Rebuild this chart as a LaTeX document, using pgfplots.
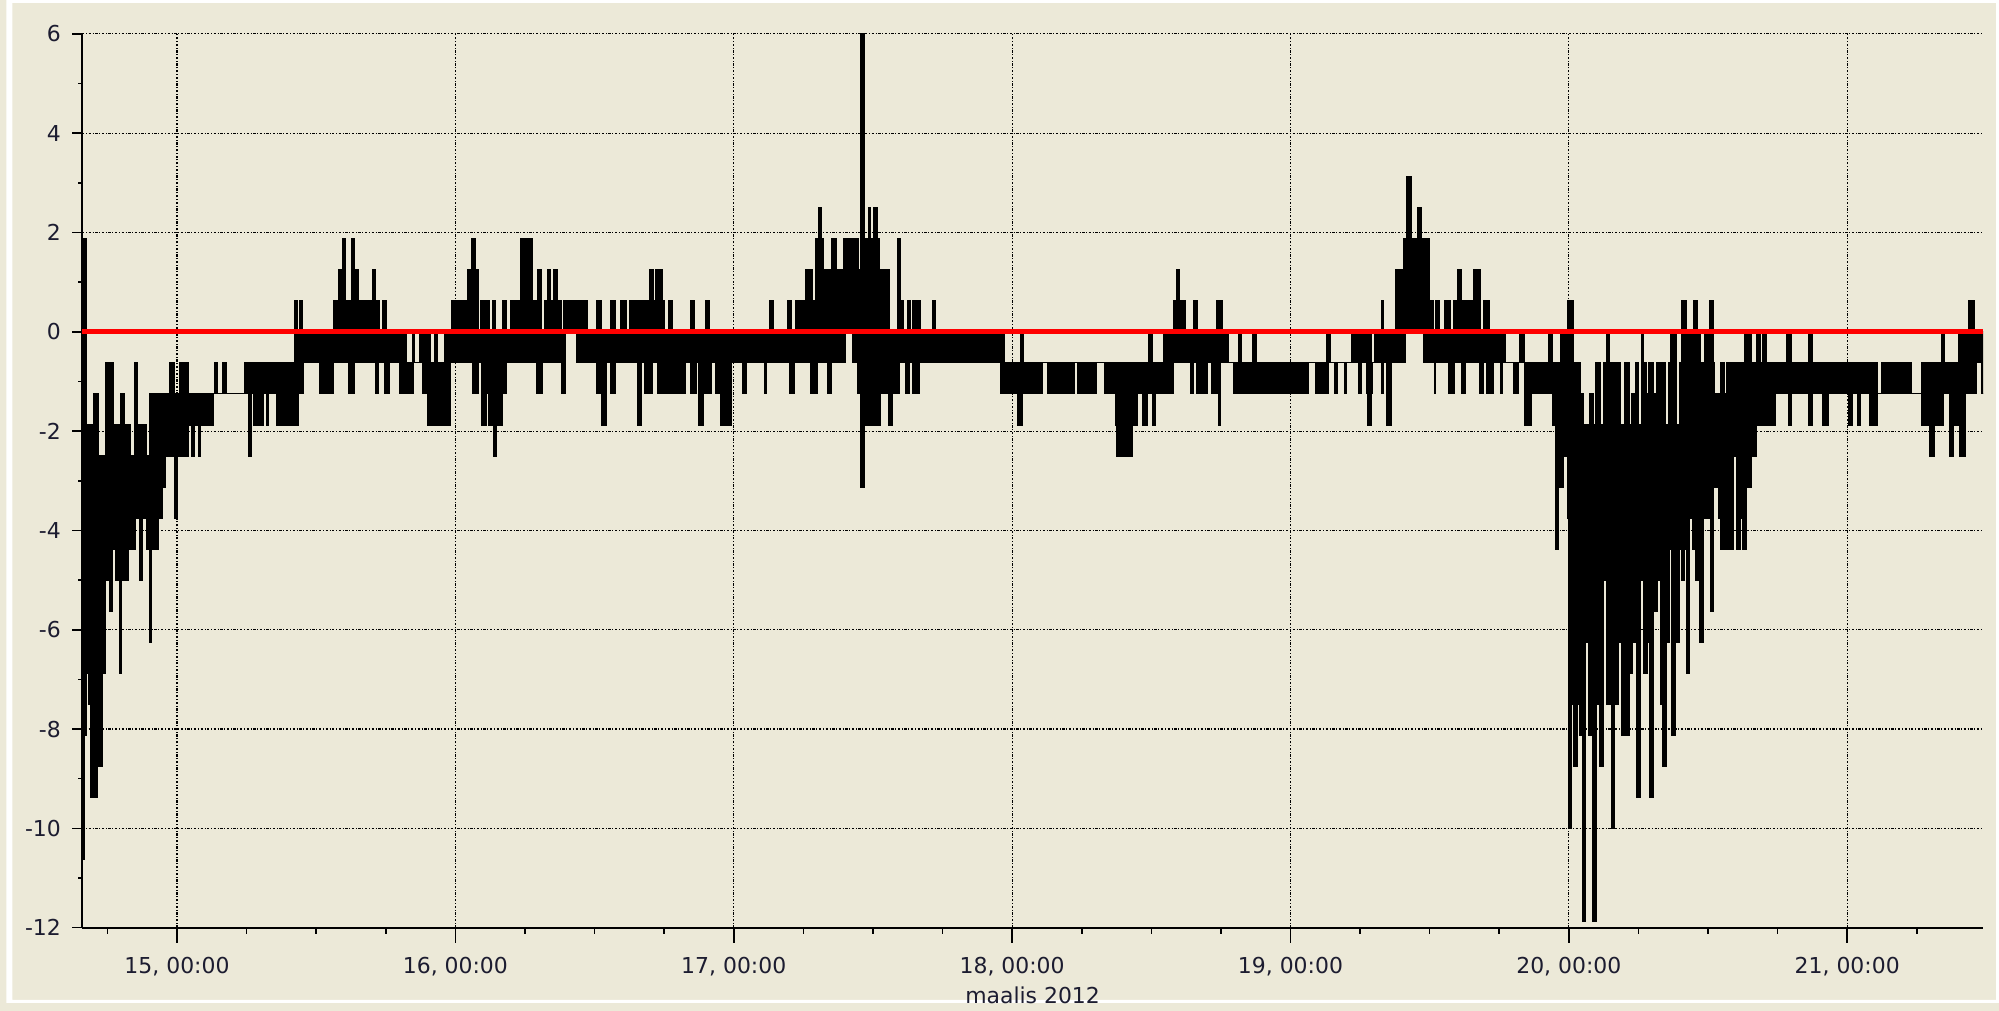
\documentclass[border=0pt]{standalone}
\usepackage{fontspec}
\setmainfont{DejaVu Sans}
\usepackage{pgfplots}
\pgfplotsset{compat=1.18}
\usepgfplotslibrary{fillbetween}
\usepackage{pgfplotstable}
\definecolor{bg}{RGB}{236,233,216}
\definecolor{lbl}{RGB}{28,28,48}

% each row: from t until the next t the signal swings between lo and hi
\pgfplotstableread{
t lo hi
14.659 -10.625 1.875
14.668 -8.125 1.875
14.676 -6.875 -1.875
14.681 -7.5 -1.875
14.691 -9.375 -1.875
14.700 -9.375 -1.25
14.713 -7.5 -1.25
14.718 -7.5 -2.5
14.720 -8.75 -2.5
14.731 -6.875 -2.5
14.742 -5.0 -0.625
14.757 -5.625 -0.625
14.769 -4.375 -0.625
14.772 -4.375 -1.875
14.778 -5.0 -1.875
14.793 -6.875 -1.875
14.796 -6.875 -1.25
14.801 -5.0 -1.25
14.810 -5.0 -1.875
14.825 -4.375 -1.875
14.831 -4.375 -2.5
14.846 -4.375 -0.625
14.849 -3.75 -0.625
14.858 -3.75 -1.875
14.865 -5.0 -1.875
14.877 -3.75 -1.875
14.891 -4.375 -2.5
14.900 -6.25 -2.5
14.901 -6.25 -1.25
14.909 -4.375 -1.25
14.933 -3.75 -1.875
14.939 -3.75 -1.25
14.949 -3.125 -1.25
14.957 -2.5 -1.25
14.973 -2.5 -0.625
14.989 -2.5 -1.25
14.993 -3.75 -1.25
15.001 -2.5 -1.25
15.011 -2.5 -0.625
15.041 -1.875 -1.25
15.053 -2.5 -1.25
15.061 -1.875 -1.25
15.077 -2.5 -1.25
15.085 -1.875 -1.25
15.130 -1.25 -1.25
15.136 -1.25 -0.625
15.146 -1.25 -1.25
15.164 -1.25 -0.625
15.178 -1.25 -1.25
15.244 -1.25 -0.625
15.256 -2.5 -0.625
15.268 -1.25 -0.625
15.274 -1.875 -0.625
15.310 -1.25 -0.625
15.322 -1.875 -0.625
15.328 -1.25 -0.625
15.358 -1.875 -0.625
15.423 -1.875 0.625
15.432 -1.875 0
15.435 -1.25 0
15.441 -1.25 0.625
15.451 -1.25 0
15.453 -0.625 0
15.513 -1.25 0
15.561 -0.625 0.625
15.582 -0.625 1.25
15.594 -0.625 1.875
15.606 -0.625 0.625
15.618 -1.25 0.625
15.627 -1.25 1.875
15.639 -0.625 1.25
15.651 -0.625 0.625
15.702 -0.625 1.25
15.712 -0.625 0.625
15.714 -1.25 0.625
15.722 -0.625 0.625
15.728 -0.625 0
15.740 -0.625 0.625
15.746 -1.25 0.625
15.752 -1.25 0
15.764 -0.625 0
15.800 -1.25 0
15.824 -1.25 -0.625
15.848 -0.625 0
15.854 -0.625 -0.625
15.872 -0.625 0
15.883 -1.25 0
15.901 -1.875 0
15.910 -1.875 -0.625
15.925 -1.875 0
15.937 -1.875 -0.625
15.961 -1.875 0
15.983 -0.625 0
15.985 -0.625 0.625
16.045 -0.625 1.25
16.057 -0.625 1.875
16.063 -1.25 1.875
16.071 -1.25 1.25
16.083 -0.625 0
16.090 -0.625 0.625
16.095 -1.875 0.625
16.111 -1.25 0.625
16.120 -1.875 0.625
16.123 -1.875 0
16.132 -1.875 0.625
16.138 -2.5 0.625
16.142 -2.5 0
16.147 -1.875 0
16.168 -1.25 0
16.171 -1.25 0.625
16.182 -0.625 0
16.198 -0.625 0.625
16.236 -0.625 1.875
16.275 -0.625 0.625
16.290 -1.25 0.625
16.296 -1.25 1.25
16.308 -1.25 0
16.314 -0.625 0
16.322 -0.625 0.625
16.332 -0.625 1.25
16.342 -0.625 0.625
16.353 -0.625 1.25
16.365 -0.625 0.625
16.380 -1.25 0
16.389 -1.25 0.625
16.394 0 0.625
16.434 -0.625 0.625
16.473 -0.625 0
16.508 -1.25 0.625
16.523 -1.25 0
16.527 -1.875 0
16.541 -0.625 0
16.559 -1.25 0.625
16.574 -0.625 0
16.592 -0.625 0.625
16.613 -0.625 0
16.625 -0.625 0.625
16.655 -1.875 0.625
16.667 -0.625 0.625
16.681 -1.25 0.625
16.697 -1.25 1.25
16.706 -0.625 1.25
16.711 -0.625 0.625
16.721 -0.625 1.25
16.727 -1.25 1.25
16.745 -1.25 0.625
16.751 -1.25 0
16.766 -1.25 0.625
16.778 -1.25 0
16.828 -0.625 0
16.846 -1.25 0.625
16.858 -1.25 0
16.864 -0.625 0
16.874 -1.875 0
16.892 -1.25 0
16.900 -1.25 0.625
16.912 -1.25 0
16.918 -0.625 0
16.934 -1.25 0
16.952 -1.875 0
16.990 -0.625 0
17.032 -1.25 0
17.044 -0.625 0
17.109 -1.25 0
17.119 -0.625 0
17.127 -0.625 0.625
17.142 -0.625 0
17.193 -0.625 0.625
17.199 -1.25 0.625
17.207 -1.25 0
17.217 -0.625 0
17.223 -0.625 0.625
17.235 -0.625 0.625
17.259 -0.625 1.25
17.277 -1.25 1.25
17.283 -1.25 0.625
17.295 -1.25 1.875
17.301 -0.625 1.875
17.304 -0.625 2.5
17.314 -0.625 1.875
17.321 -0.625 1.25
17.337 -1.25 1.25
17.349 -0.625 1.25
17.351 -0.625 1.875
17.367 -0.625 1.25
17.396 -0.625 1.875
17.400 0 1.875
17.426 -0.625 1.875
17.444 -1.25 1.875
17.448 -1.25 1.25
17.456 -3.125 6.0
17.468 -1.875 1.875
17.483 -1.875 2.5
17.492 -1.875 1.875
17.504 -1.875 2.5
17.516 -1.875 1.875
17.522 -1.875 1.25
17.528 -1.25 1.25
17.558 -1.875 0
17.570 -1.25 0
17.588 -1.25 1.875
17.594 -0.625 1.875
17.600 -0.625 0.625
17.608 -0.625 0
17.618 -1.25 0
17.624 -1.25 0.625
17.632 -0.625 0.625
17.633 -0.625 0
17.642 -1.25 0.625
17.666 -0.625 0.625
17.672 -0.625 0
17.713 -0.625 0.625
17.725 -0.625 0
17.959 -1.25 0
17.971 -1.25 -0.625
18.018 -1.875 -0.625
18.030 -1.875 0
18.036 -1.25 0
18.042 -1.25 -0.625
18.108 -0.625 -0.625
18.126 -1.25 -0.625
18.225 -0.625 -0.625
18.234 -1.25 -0.625
18.302 -0.625 -0.625
18.333 -1.25 -0.625
18.371 -1.875 -0.625
18.377 -2.5 -0.625
18.431 -1.875 -0.625
18.449 -1.25 -0.625
18.467 -1.875 -0.625
18.485 -1.25 -0.625
18.491 -1.25 0
18.503 -1.875 -0.625
18.515 -1.25 -0.625
18.545 -1.25 0
18.580 -0.625 0.625
18.592 -0.625 1.25
18.601 -0.625 0.625
18.622 -0.625 0
18.640 -1.25 0
18.652 -0.625 0.625
18.664 -1.25 0
18.700 -0.625 0
18.718 -1.25 0
18.736 -1.25 0.625
18.742 -1.875 0.625
18.748 -0.625 0.625
18.754 -0.625 0
18.778 -0.625 -0.625
18.796 -1.25 -0.625
18.814 -1.25 0
18.823 -1.25 -0.625
18.865 -1.25 0
18.876 -1.25 -0.625
19.065 -0.625 -0.625
19.091 -1.25 -0.625
19.131 -1.25 0
19.137 -0.625 0
19.143 -0.625 -0.625
19.158 -1.25 -0.625
19.167 -0.625 -0.625
19.194 -1.25 -0.625
19.202 -0.625 -0.625
19.220 -0.625 0
19.244 -1.25 0
19.254 -0.625 0
19.274 -1.25 0
19.278 -1.875 0
19.290 -1.25 0
19.292 -1.25 -0.625
19.295 -0.625 -0.625
19.302 -0.625 0
19.326 -1.25 0.625
19.334 -0.625 0
19.344 -1.875 0
19.362 -0.625 0
19.376 -0.625 1.25
19.406 -0.625 1.875
19.412 0 1.875
19.418 0 3.125
19.436 0 1.875
19.457 0 2.5
19.469 0 1.875
19.478 -0.625 1.875
19.499 -0.625 0.625
19.513 -0.625 0
19.517 -1.25 0
19.522 -0.625 0.625
19.534 -0.625 0
19.553 -0.625 0.625
19.567 -1.25 0.625
19.573 -1.25 0
19.585 -1.25 0.625
19.589 -0.625 0.625
19.601 -0.625 1.25
19.615 -1.25 0.625
19.629 -0.625 0.625
19.657 -0.625 1.25
19.681 -1.25 0
19.693 -0.625 0.625
19.705 -1.25 0.625
19.713 -1.25 0
19.729 -0.625 0
19.753 -1.25 0
19.761 -0.625 0
19.771 -0.625 -0.625
19.800 -1.25 -0.625
19.818 -0.625 -0.625
19.824 -0.625 0
19.842 -1.875 -0.625
19.866 -1.25 -0.625
19.898 -1.25 -0.625
19.928 -1.25 0
19.940 -1.875 -0.625
19.952 -4.375 -0.625
19.964 -3.125 -0.625
19.970 -3.125 0
19.979 -2.5 0
19.994 -3.75 0.625
20.000 -10 0.625
20.008 -7.5 0.625
20.018 -8.75 -0.625
20.030 -7.5 -0.625
20.039 -8.125 -0.625
20.042 -8.125 -1.25
20.048 -11.875 -1.25
20.053 -11.875 -1.875
20.059 -6.25 -1.875
20.071 -8.125 -1.875
20.075 -8.125 -1.25
20.080 -6.25 -1.25
20.087 -11.875 -1.875
20.095 -11.875 -0.625
20.099 -7.5 -0.625
20.111 -8.75 -0.625
20.113 -8.75 -1.875
20.123 -5.0 -1.875
20.125 -5.0 -0.625
20.137 -7.5 0
20.146 -7.5 -0.625
20.152 -10 -0.625
20.164 -7.5 -0.625
20.179 -6.25 -0.625
20.185 -6.25 -1.875
20.191 -8.125 -1.875
20.199 -8.125 -0.625
20.219 -6.875 -1.875
20.227 -6.25 -1.25
20.239 -6.25 -0.625
20.245 -9.375 -0.625
20.251 -9.375 -1.875
20.257 -5.0 -1.875
20.260 -5.0 0
20.269 -6.875 -0.625
20.278 -6.875 -1.25
20.281 -6.25 -1.25
20.287 -6.25 -0.625
20.290 -9.375 -0.625
20.302 -5.625 -0.625
20.305 -5.625 -1.25
20.314 -5.625 -0.625
20.317 -5.0 -0.625
20.329 -7.5 -0.625
20.338 -8.75 -0.625
20.347 -8.75 -1.875
20.350 -6.25 -1.875
20.358 -6.25 -0.625
20.362 -4.375 -0.625
20.367 -4.375 0
20.370 -8.125 0
20.382 -6.25 0
20.386 -6.25 -1.875
20.398 -4.375 -0.625
20.406 -5.0 0.625
20.415 -4.375 0.625
20.424 -6.875 0
20.434 -3.75 0
20.446 -4.375 0
20.448 -4.375 0.625
20.454 -5.0 0.625
20.460 -5.0 0
20.470 -6.25 0
20.472 -6.25 -0.625
20.482 -3.75 -0.625
20.486 -3.75 0
20.506 -3.75 0.625
20.508 -5.625 0.625
20.518 -5.625 -0.625
20.520 -3.125 -0.625
20.522 -3.125 -1.25
20.538 -3.75 -1.25
20.544 -4.375 -0.625
20.558 -4.375 -1.25
20.568 -3.125 -0.625
20.574 -4.375 -0.625
20.592 -2.5 -0.625
20.604 -4.375 -0.625
20.616 -3.75 -0.625
20.625 -4.375 -0.625
20.630 -4.375 0
20.637 -3.125 0
20.654 -2.5 -0.625
20.675 -1.875 0
20.687 -1.875 -0.625
20.697 -1.875 0
20.711 -1.875 -0.625
20.741 -1.25 -0.625
20.783 -1.25 0
20.789 -1.875 0
20.801 -1.25 -0.625
20.831 -1.25 -0.625
20.861 -1.875 0
20.876 -1.25 -0.625
20.910 -1.875 -0.625
20.934 -1.25 -0.625
21.006 -1.875 -0.625
21.018 -1.25 -0.625
21.036 -1.875 -0.625
21.048 -1.25 -0.625
21.082 -1.875 -0.625
21.109 -1.25 -1.25
21.125 -1.25 -0.625
21.230 -1.25 -1.25
21.266 -1.875 -0.625
21.296 -2.5 -0.625
21.314 -1.875 -0.625
21.338 -1.875 0
21.344 -1.25 0
21.350 -1.25 -0.625
21.369 -2.5 -0.625
21.383 -1.875 -0.625
21.399 -1.875 0
21.405 -2.5 0
21.423 -1.25 0
21.435 -1.25 0.625
21.457 -1.25 0
21.465 -0.625 0
21.483 -1.25 0
21.490 -1.25 0
}\series

\begin{document}
\pagecolor{bg}
\begin{tikzpicture}
\fill[white, even odd rule] (0,0) rectangle (999.5pt,503pt) (3pt,1.5pt) rectangle (998pt,501.5pt);
\begin{axis}[
    at={(38pt,37.7pt)}, anchor=south west,
    scale only axis, width=953.5pt, height=448.3pt,
    xmin=14.659, xmax=21.488, ymin=-12, ymax=6,
    axis lines*=left,
    axis line style={black, line width=0.9pt},
    tick align=outside,
    xtick={15,...,21},
    xticklabels={{15, 00:00},{16, 00:00},{17, 00:00},{18, 00:00},{19, 00:00},{20, 00:00},{21, 00:00}},
    minor xtick={14.75,15,...,21.25},
    ytick={-12,-10,...,6},
    yticklabels={-12,-10,-8,-6,-4,-2,0,2,4,6},
    minor ytick={-11,-9,...,5},
    x tick style={black, line width=0.8pt, /pgfplots/major tick length=7.5pt, /pgfplots/minor tick length=3pt},
    y tick style={black, line width=0.8pt, /pgfplots/major tick length=5pt, /pgfplots/minor tick length=2pt},
    grid=major,
    major grid style={black, line width=0.6pt, dash pattern=on 1.2pt off 0.8pt on 0.5pt off 0.8pt},
    ticklabel style={font=\fontsize{11}{13}\selectfont, text=lbl},
    xticklabel style={anchor=center, yshift=-15.5pt},
    yticklabel style={anchor=east, inner sep=0pt, xshift=-6.2pt},
    xlabel={maalis 2012},
    xlabel style={font=\fontsize{11}{13}\selectfont, text=lbl, at={(axis description cs:0.5,0)}, anchor=center, yshift=-34pt},
  ]
  \addplot[name path=hi, const plot, black, line width=0.6pt] table[x=t, y=hi] {\series};
  \addplot[name path=lo, const plot, black, line width=0.6pt] table[x=t, y=lo] {\series};
  \addplot[black] fill between[of=hi and lo];
  \addplot[red, line width=2.4pt] coordinates {(14.659,0) (21.488,0)};
\end{axis}
\end{tikzpicture}
\end{document}
